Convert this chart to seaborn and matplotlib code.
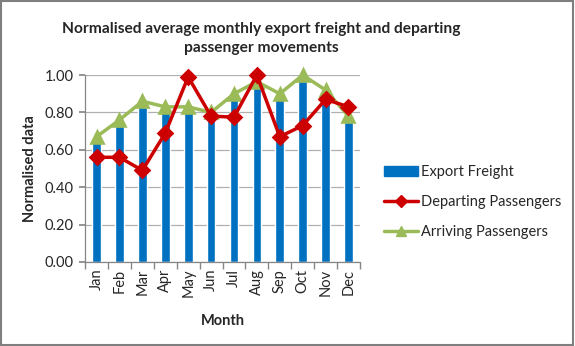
import matplotlib
matplotlib.use("Agg")
import matplotlib.pyplot as plt
import seaborn as sns
import pandas as pd
from matplotlib.patches import Rectangle
from matplotlib.lines import Line2D
from matplotlib.ticker import FixedLocator

months = ["Jan", "Feb", "Mar", "Apr", "May", "Jun", "Jul", "Aug", "Sep", "Oct", "Nov", "Dec"]
export_freight = [0.64, 0.73, 0.83, 0.80, 0.80, 0.77, 0.875, 0.94, 0.875, 0.97, 0.89, 0.75]
departing = [0.56, 0.56, 0.49, 0.69, 0.99, 0.78, 0.775, 1.00, 0.67, 0.73, 0.87, 0.83]
arriving = [0.67, 0.76, 0.86, 0.83, 0.83, 0.80, 0.90, 0.965, 0.90, 1.00, 0.92, 0.78]
yticks = [0, 0.2, 0.4, 0.6, 0.8, 1.0]

sns.set_theme(style="white")
plt.rcParams["font.family"] = ["Lato", "DejaVu Sans"]

fig = plt.figure(figsize=(5.75, 3.46), dpi=100)
ax = fig.add_axes([0.148, 0.243, 0.478, 0.540])

df = pd.DataFrame({"Month": months, "Export Freight": export_freight,
                   "Departing": departing, "Arriving": arriving})

blue = "#0070C0"
red = "#CC0000"
green = "#9BBB59"

sns.barplot(data=df, x="Month", y="Export Freight", color=blue, width=0.38,
            saturation=1, ax=ax, zorder=2)
sns.pointplot(data=df, x="Month", y="Arriving", color=green, markers="^",
              linestyles="-", ax=ax, zorder=3,
              markersize=8.5, linewidth=2.5)
sns.pointplot(data=df, x="Month", y="Departing", color=red, markers="D",
              linestyles="-", ax=ax, zorder=4,
              markersize=7, linewidth=2.5)
for ln in ax.lines:
    ln.set_clip_on(False)

ax.set_ylim(0, 1.0)
ax.set_xlim(-0.5, 11.5)
ax.set_yticks(yticks)
ax.set_yticklabels([f"{v:.2f}" for v in yticks], fontsize=10.5)
ax.set_xticks(range(12))
ax.set_xticklabels(months, rotation=90, fontsize=10.5)
ax.grid(axis="y", color="#B0B0B0", linewidth=0.9, zorder=0)
ax.set_axisbelow(True)
for s in ["top", "right"]:
    ax.spines[s].set_visible(False)
for s in ["left", "bottom"]:
    ax.spines[s].set_color("#868686")
    ax.spines[s].set_linewidth(0.9)

ax.tick_params(axis="x", which="major", length=0, pad=5)
ax.tick_params(axis="y", which="major", length=4, color="#868686", direction="out", left=True, pad=4)
ax.xaxis.set_minor_locator(FixedLocator([i - 0.5 for i in range(13)]))
ax.tick_params(axis="x", which="minor", length=5, color="#868686", direction="out", bottom=True)

ax.set_xlabel("Month", fontsize=10.5, fontweight="bold", labelpad=12)
ax.set_ylabel("Normalised data", fontsize=10.5, fontweight="bold", labelpad=6)

fig.suptitle("Normalised average monthly export freight and departing\npassenger movements",
             fontsize=11.2, fontweight="bold", x=0.455, y=0.935, linespacing=1.45)

handles = [Rectangle((0, 0), 1, 1, color=blue),
           Line2D([], [], color=red, marker="D", markersize=6, linewidth=2.5),
           Line2D([], [], color=green, marker="^", markersize=7, linewidth=2.5)]
labels = ["Export Freight", "Departing Passengers", "Arriving Passengers"]
fig.legend(handles, labels, loc="center left", bbox_to_anchor=(0.645, 0.415),
           frameon=False, fontsize=10.5, handlelength=2.3, labelspacing=1.1,
           handletextpad=0.25)

fig.patches.append(Rectangle((0.002, 0.003), 0.995, 0.993, transform=fig.transFigure,
                             fill=False, edgecolor="#7F7F7F", linewidth=1.5))

fig.savefig("out.png", dpi=100)
